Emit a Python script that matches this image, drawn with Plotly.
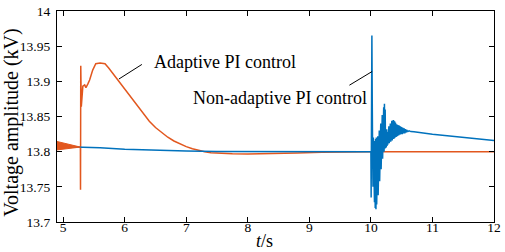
import plotly.graph_objects as go

# ---------------- data ----------------
# Non-adaptive PI control (blue)
na_t = [4.9, 5.28, 5.6, 6.0, 6.5, 7.0, 7.5, 8.0, 9.0, 9.995,
        10.0, 10.004, 10.008, 10.016, 10.022, 10.028, 10.034, 10.04, 10.046, 10.052,
        10.058, 10.064, 10.07, 10.076, 10.082, 10.088, 10.094, 10.1, 10.106, 10.112,
        10.118, 10.124, 10.13, 10.136, 10.142, 10.148, 10.154, 10.16, 10.166, 10.172,
        10.178, 10.184, 10.19, 10.196, 10.202, 10.208, 10.214, 10.22, 10.226, 10.232,
        10.238, 10.244, 10.25, 10.256, 10.262, 10.268, 10.274, 10.28, 10.286, 10.292,
        10.298, 10.304, 10.31, 10.316, 10.322, 10.328, 10.334, 10.34, 10.346, 10.352,
        10.358, 10.364, 10.37, 10.376, 10.382, 10.388, 10.394, 10.4, 10.41, 10.42,
        10.43, 10.44, 10.45, 10.46, 10.47, 10.48, 10.49, 10.5, 10.51, 10.52,
        10.53, 10.54, 10.55, 10.56, 10.57, 10.58, 10.6, 10.62, 10.65, 10.7,
        11.0, 11.5, 12.0]
na_v = [13.8075, 13.8068, 13.8055, 13.8035, 13.8018, 13.8008, 13.8004, 13.8002, 13.8, 13.8,
        13.8, 13.735, 13.80, 13.965, 13.87, 13.80, 13.75, 13.82, 13.74, 13.818,
        13.728, 13.815, 13.72, 13.818, 13.718, 13.82, 13.725, 13.818, 13.732, 13.822,
        13.738, 13.826, 13.748, 13.83, 13.758, 13.835, 13.766, 13.84, 13.775, 13.846,
        13.782, 13.852, 13.79, 13.858, 13.796, 13.863, 13.80, 13.868, 13.804, 13.86,
        13.806, 13.845, 13.807, 13.832, 13.808, 13.828, 13.81, 13.832, 13.811, 13.836,
        13.812, 13.838, 13.813, 13.84, 13.814, 13.842, 13.815, 13.844, 13.816, 13.845,
        13.817, 13.845, 13.818, 13.844, 13.819, 13.843, 13.82, 13.841, 13.821, 13.839,
        13.822, 13.838, 13.823, 13.837, 13.824, 13.836, 13.825, 13.835, 13.825, 13.834,
        13.826, 13.833, 13.826, 13.832, 13.827, 13.831, 13.8285, 13.8295, 13.8285, 13.8282,
        13.8248, 13.8202, 13.8158]

# Adaptive PI control (orange)
ad_t = [5.28, 5.282, 5.286, 5.295, 5.32, 5.35, 5.37, 5.40, 5.43, 5.48,
        5.53, 5.60, 5.68, 5.74, 5.80, 5.90, 6.00, 6.10, 6.20, 6.30,
        6.40, 6.50, 6.60, 6.70, 6.80, 6.90, 7.00, 7.10, 7.20, 7.30,
        7.40, 7.55, 7.75, 8.00, 8.40, 8.80, 9.20, 9.60, 10.0, 12.0]
ad_v = [13.807, 13.746, 13.922, 13.864, 13.893, 13.895, 13.891, 13.896, 13.902, 13.916,
        13.925, 13.926, 13.925, 13.919, 13.912, 13.901, 13.889, 13.877, 13.865, 13.8535,
        13.8432, 13.8343, 13.8268, 13.8205, 13.8152, 13.8108, 13.8072, 13.8042, 13.8017, 13.7998,
        13.7986, 13.7976, 13.797, 13.7967, 13.797, 13.798, 13.799, 13.7995, 13.8, 13.8]

# Oscillation envelope of the adaptive control before the step
band_t = [4.9, 5.28, 4.9]
band_v = [13.8145, 13.8065, 13.8025]

x_ticks = [5, 6, 7, 8, 9, 10, 11, 12]
y_ticks = [13.7, 13.75, 13.8, 13.85, 13.9, 13.95, 14]
y_tick_text = ["13.7", "13.75", "13.8", "13.85", "13.9", "13.95", "14"]

# ---------------- figure ----------------
BLUE = "#0072BD"
ORANGE = "#E2571E"
FONT = "Liberation Serif, Times New Roman, serif"

fig = go.Figure()
fig.add_trace(go.Scatter(x=ad_t, y=ad_v, mode="lines",
                         line=dict(color=ORANGE, width=1.5), hoverinfo="skip"))
fig.add_trace(go.Scatter(x=na_t, y=na_v, mode="lines",
                         line=dict(color=BLUE, width=1.5), hoverinfo="skip"))
fig.add_trace(go.Scatter(x=band_t, y=band_v, mode="lines", fill="toself",
                         fillcolor=ORANGE, line=dict(color=ORANGE, width=1),
                         hoverinfo="skip"))

axis_common = dict(showline=True, linecolor="black", linewidth=1.3, mirror="ticks",
                   ticks="inside", ticklen=5, tickwidth=1.2, tickcolor="black",
                   showgrid=False, zeroline=False, ticklabeloverflow="allow",
                   tickfont=dict(family=FONT, size=13.5, color="black"))

fig.update_xaxes(range=[4.9, 12], tickvals=x_ticks, ticktext=[str(v) for v in x_ticks],
                 ticklabelstandoff=-7, **axis_common)
fig.update_yaxes(range=[13.7, 14], tickvals=y_ticks, ticktext=y_tick_text,
                 ticklabelstandoff=3, **axis_common)

# annotation leader lines
fig.add_shape(type="line", x0=5.906, y0=13.9033, x1=6.279, y1=13.924,
              line=dict(color="black", width=1))
fig.add_shape(type="line", x0=9.651, y0=13.8945, x1=10.02, y1=13.914,
              line=dict(color="black", width=1))

fig.add_annotation(x=6.45, y=13.928, text="Adaptive PI control", showarrow=False,
                   xanchor="left", yanchor="middle",
                   font=dict(family=FONT, size=18, color="black"))
fig.add_annotation(x=7.08, y=13.876, text="Non-adaptive PI control", showarrow=False,
                   xanchor="left", yanchor="middle",
                   font=dict(family=FONT, size=18, color="black"))

# axis titles
fig.add_annotation(xref="paper", yref="paper", x=0.474, y=-0.092,
                   text="<i>t</i>/s", showarrow=False, xanchor="center", yanchor="middle",
                   font=dict(family=FONT, size=18, color="black"))
fig.add_annotation(xref="paper", yref="paper", x=-0.103, y=0.47,
                   text="Voltage amplitude (kV)", showarrow=False, textangle=-90,
                   xanchor="center", yanchor="middle",
                   font=dict(family=FONT, size=20, color="black"))

fig.update_layout(width=505, height=252, margin=dict(l=57, r=10, t=4, b=30),
                  font=dict(family=FONT, color="black"),
                  paper_bgcolor="white", plot_bgcolor="white", showlegend=False)

fig.write_html("out.html", config={"displayModeBar": False},
               post_script="document.body.style.margin='0';document.body.style.overflow='hidden';")
